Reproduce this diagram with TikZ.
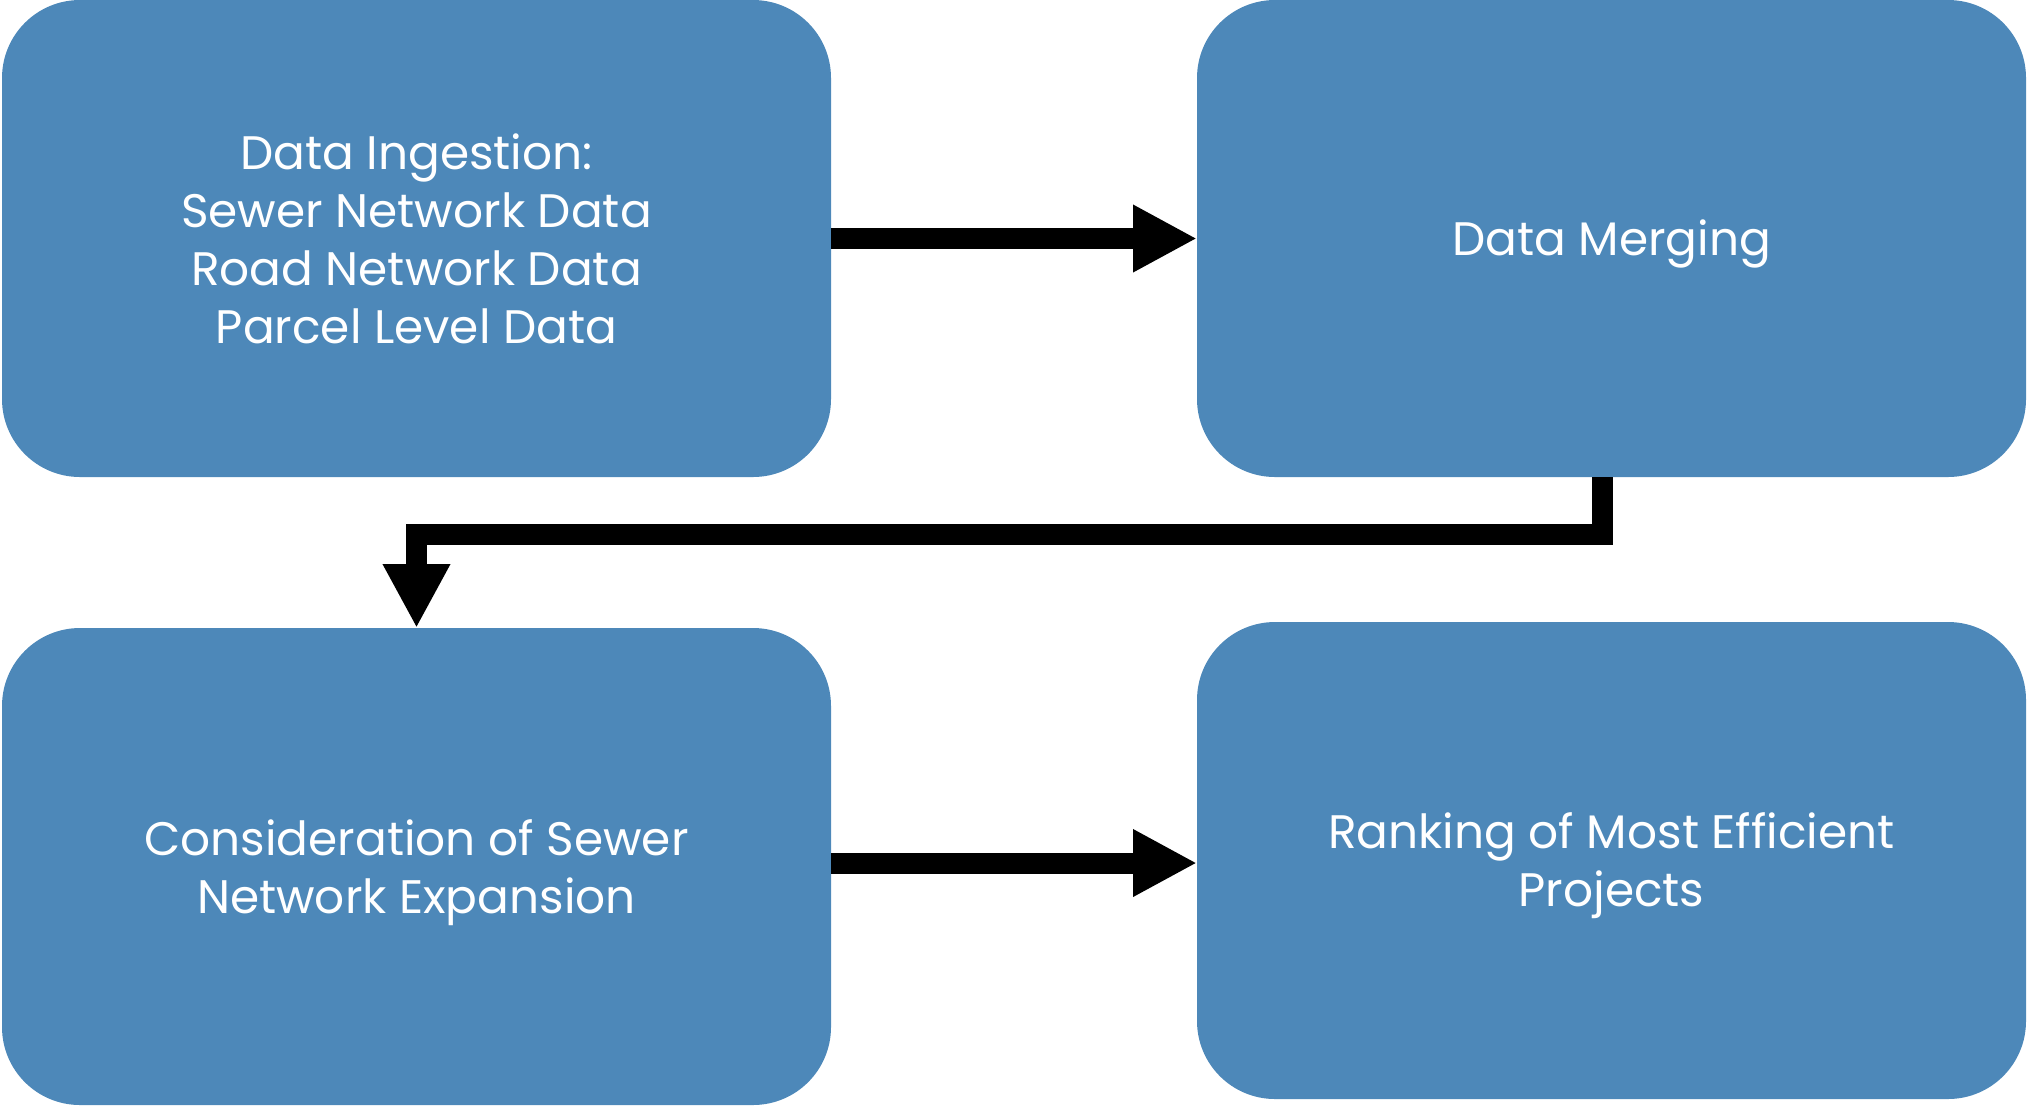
\documentclass[tikz,border=0pt]{standalone}
\usepackage{fontspec}
\setmainfont{Poppins}
\usetikzlibrary{arrows.meta}
\definecolor{boxblue}{RGB}{77,136,185}
\begin{document}
\begin{tikzpicture}[
  flowbox/.style={rectangle, rounded corners=39pt, fill=boxblue, draw=none,
    minimum width=414.5pt, minimum height=238.5pt, inner sep=0pt, outer sep=0pt},
  boxlabel/.style={inner sep=0pt, text=white, align=center, font=\fontsize{23.5pt}{29pt}\selectfont},
  flowarrow/.style={line width=10.5pt, miter limit=10, -{Triangle[width=31.5pt,length=32pt]}}
]
\useasboundingbox (0,0) rectangle (1014pt,-552.5pt);
\node[flowbox] (b1) at (208.25pt,-119.25pt) {};
\node[flowbox] (b2) at (805.75pt,-119.25pt) {};
\node[flowbox] (b3) at (208.25pt,-433.25pt) {};
\node[flowbox] (b4) at (805.75pt,-430.25pt) {};
\node[boxlabel] (t1) at (b1.center) {Data Ingestion:\\Sewer Network Data\\Road Network Data\\Parcel Level Data};
\node[boxlabel] (t2) at ([yshift=-2.6pt]b2.center) {Data Merging};
\node[boxlabel] (t3) at ([yshift=-3pt]b3.center) {Consideration of Sewer\\Network Expansion};
\node[boxlabel] (t4) at ([yshift=-2.4pt]b4.center) {Ranking of Most Efficient\\Projects};
\draw[flowarrow] (b1.east) -- (b2.west);
\draw[flowarrow] (b3.east |- 0,-431.5pt) -- (b4.west |- 0,-431.5pt);
\coordinate (s2) at ([xshift=-4.75pt]b2.south);
\draw[flowarrow] (s2) -- ++(0,-28.5pt) -| (b3.north);
\end{tikzpicture}
\end{document}
